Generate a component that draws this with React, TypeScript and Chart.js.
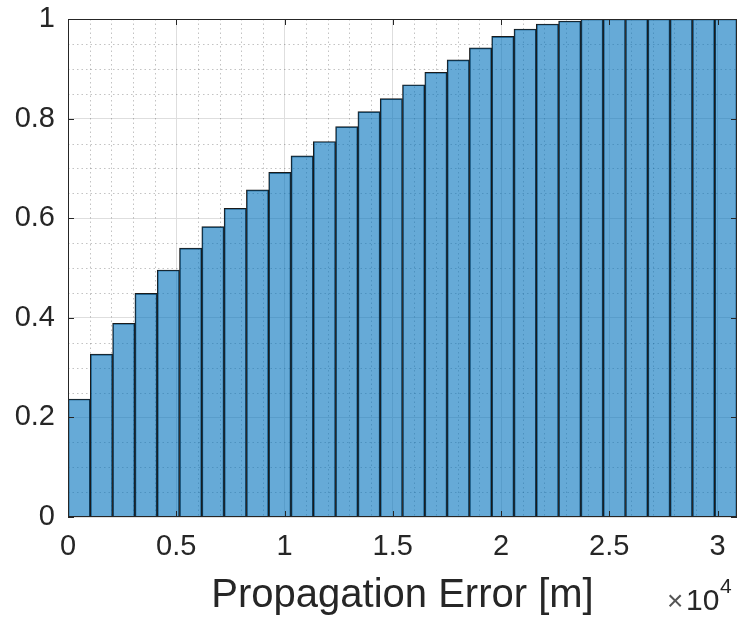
import React, { useEffect, useRef } from "react";
import { Chart, registerables } from "chart.js";

Chart.register(...registerables);

// Bin centres of the histogram (metres), bin width 1030 m
const binCenters = [
  515, 1545, 2575, 3605, 4635, 5665, 6695, 7725, 8755, 9785,
  10815, 11845, 12875, 13905, 14935, 15965, 16995, 18025, 19055, 20085,
  21115, 22145, 23175, 24205, 25235, 26265, 27295, 28325, 29355, 30385,
];

// Cumulative probability per bin
const cdfValues = [
  0.237, 0.327, 0.389, 0.449, 0.496, 0.54, 0.583, 0.62, 0.657, 0.692,
  0.725, 0.754, 0.784, 0.814, 0.84, 0.868, 0.893, 0.918, 0.942, 0.965,
  0.98, 0.99, 0.996, 1, 1, 1, 1, 1, 1, 1,
];

const xTickValues = [0, 5000, 10000, 15000, 20000, 25000, 30000];
const xTickLabels = ["0", "0.5", "1", "1.5", "2", "2.5", "3"];
const yTickValues = [0, 0.2, 0.4, 0.6, 0.8, 1];
const yTickLabels = ["0", "0.2", "0.4", "0.6", "0.8", "1"];

const xMin = 0;
const xMax = 30900;
const xMinorStep = 1000;
const yMinorStep = 0.05;

const FONT = '"Liberation Sans", Arial, Helvetica, sans-serif';
const AXIS_COLOR = "#262626";

const labelFor = (values: number[], labels: string[], v: number) => {
  const i = values.findIndex((t) => Math.abs(t - v) < 1e-6);
  return i >= 0 ? labels[i] : "";
};

const matlabPlugin = {
  id: "matlabAxes",
  beforeDatasetsDraw(chart: any) {
    const { ctx, chartArea: a, scales } = chart;
    const xs = scales.x;
    const ys = scales.y;
    ctx.save();
    ctx.strokeStyle = "rgba(38,38,38,0.28)";
    ctx.lineWidth = 1;
    ctx.setLineDash([1.5, 3]);
    for (let v = xMin + xMinorStep; v < xMax; v += xMinorStep) {
      if (xTickValues.some((t) => Math.abs(t - v) < 1e-6)) continue;
      const px = Math.round(xs.getPixelForValue(v)) + 0.5;
      ctx.beginPath();
      ctx.moveTo(px, a.top);
      ctx.lineTo(px, a.bottom);
      ctx.stroke();
    }
    for (let k = 1; k < 20; k++) {
      const v = k * yMinorStep;
      if (yTickValues.some((t) => Math.abs(t - v) < 1e-6)) continue;
      const py = Math.round(ys.getPixelForValue(v)) + 0.5;
      ctx.beginPath();
      ctx.moveTo(a.left, py);
      ctx.lineTo(a.right, py);
      ctx.stroke();
    }
    ctx.restore();
  },
  afterDatasetsDraw(chart: any) {
    const { ctx, chartArea: a, scales } = chart;
    const xs = scales.x;
    const ys = scales.y;
    ctx.save();
    ctx.setLineDash([]);
    ctx.strokeStyle = AXIS_COLOR;
    ctx.lineWidth = 1;
    ctx.strokeRect(a.left + 0.5, a.top + 0.5, a.right - a.left - 1, a.bottom - a.top - 1);
    const tl = 6;
    ctx.beginPath();
    xTickValues.forEach((v) => {
      const px = Math.round(xs.getPixelForValue(v)) + 0.5;
      ctx.moveTo(px, a.bottom);
      ctx.lineTo(px, a.bottom - tl);
      ctx.moveTo(px, a.top);
      ctx.lineTo(px, a.top + tl);
    });
    yTickValues.forEach((v) => {
      const py = Math.round(ys.getPixelForValue(v)) + 0.5;
      ctx.moveTo(a.left, py);
      ctx.lineTo(a.left + tl, py);
      ctx.moveTo(a.right, py);
      ctx.lineTo(a.right - tl, py);
    });
    ctx.stroke();
    ctx.restore();
  },
  afterDraw(chart: any) {
    const { ctx } = chart;
    ctx.save();
    ctx.textBaseline = "alphabetic";
    ctx.textAlign = "left";
    ctx.font = `300 28px ${FONT}`;
    ctx.fillStyle = "#555";
    ctx.fillText("\u00d7", 667, 610);
    ctx.fillStyle = AXIS_COLOR;
    ctx.font = `30px ${FONT}`;
    ctx.fillText("10", 686, 610);
    ctx.font = `21px ${FONT}`;
    ctx.fillText("4", 720, 593);
    ctx.restore();
  },
};

export default function App() {
  const canvasRef = useRef<HTMLCanvasElement | null>(null);

  useEffect(() => {
    document.body.style.margin = "0";
    const canvas = canvasRef.current;
    if (!canvas) return;
    const chart = new Chart(canvas, {
      type: "bar",
      data: {
        datasets: [
          {
            data: binCenters.map((x, i) => ({ x, y: cdfValues[i] })),
            backgroundColor: "rgba(0,114,189,0.6)",
            borderColor: "#1a1a1a",
            borderWidth: 1,
            barPercentage: 1,
            categoryPercentage: 1,
          } as any,
        ],
      },
      options: {
        animation: false,
        responsive: false,
        devicePixelRatio: 1,
        layout: { padding: { top: 19, right: 4, left: 0, bottom: 0 } },
        plugins: { legend: { display: false }, tooltip: { enabled: false } },
        scales: {
          x: {
            type: "linear",
            min: xMin,
            max: xMax,
            offset: false,
            grid: { offset: false, color: "#dedede", lineWidth: 1, drawTicks: false },
            border: { display: false },
            afterBuildTicks: (s: any) => {
              s.ticks = xTickValues.map((value) => ({ value }));
            },
            ticks: {
              autoSkip: false,
              maxRotation: 0,
              minRotation: 0,
              padding: 13,
              color: AXIS_COLOR,
              font: { family: FONT, size: 29 },
              callback: (_v: any, i: number, ticks: any[]) =>
                labelFor(xTickValues, xTickLabels, Number(ticks[i].value)),
            },
            title: {
              display: true,
              text: "Propagation Error [m]",
              color: AXIS_COLOR,
              font: { family: FONT, size: 40 },
              padding: { top: 0, bottom: 1 },
            },
            afterFit: (s: any) => {
              s.height = 104;
              s.paddingLeft = 0;
              s.paddingRight = 0;
            },
          } as any,
          y: {
            type: "linear",
            min: 0,
            max: 1,
            grid: { color: "#dedede", lineWidth: 1, drawTicks: false },
            border: { display: false },
            afterBuildTicks: (s: any) => {
              s.ticks = yTickValues.map((value) => ({ value }));
            },
            ticks: {
              padding: 13,
              color: AXIS_COLOR,
              font: { family: FONT, size: 29 },
              callback: (_v: any, i: number, ticks: any[]) =>
                labelFor(yTickValues, yTickLabels, Number(ticks[i].value)),
            },
            afterFit: (s: any) => {
              s.width = 68;
              s.paddingTop = 0;
              s.paddingBottom = 0;
            },
          } as any,
        },
      },
      plugins: [matlabPlugin],
    });
    return () => chart.destroy();
  }, []);

  return (
    <div style={{ width: 741, height: 621, background: "#fff" }}>
      <canvas ref={canvasRef} width={741} height={621} style={{ display: "block" }} />
    </div>
  );
}
